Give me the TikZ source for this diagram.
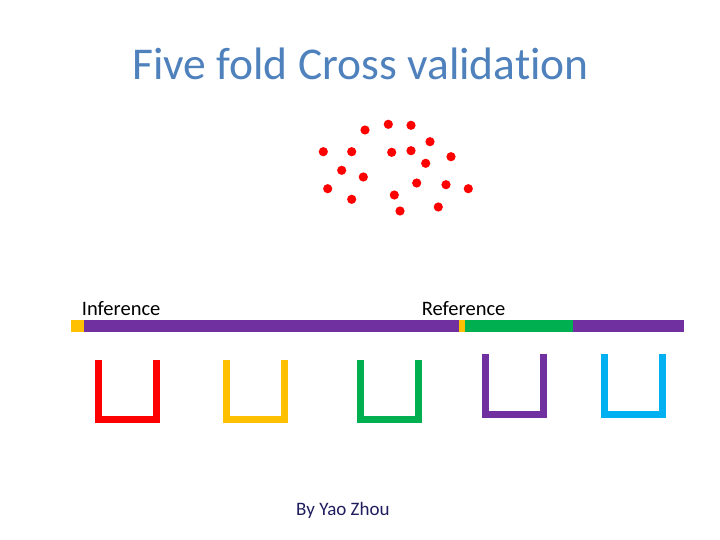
\documentclass[tikz,border=0pt]{standalone}
\usepackage{fontspec}
\setmainfont{Carlito}[Ligatures=NoCommon]
\usepackage{xcolor}
\usepackage{tikz}
\definecolor{TitleBlue}{HTML}{4F81BD}
\definecolor{NameNavy}{HTML}{1F1D5E}
\definecolor{FoldRed}{HTML}{FF0000}
\definecolor{FoldYellow}{HTML}{FFC000}
\definecolor{FoldGreen}{HTML}{00B050}
\definecolor{FoldPurple}{HTML}{7030A0}
\definecolor{FoldBlue}{HTML}{00B0F0}

\begin{document}
\begin{tikzpicture}[
  x=1pt, y=-1pt,
  label/.style={anchor=base west, inner sep=0pt, font=\fontsize{20.5}{24}\selectfont},
  sample/.style={fill=FoldRed, draw=none},
  segment/.style={draw=none},
  bucket/.style={line width=7pt, line cap=butt, line join=miter}
]
\useasboundingbox (0,0) rectangle (720,540);

% title
\node[anchor=base west, inner sep=0pt, text=TitleBlue,
  font=\fontsize{45.5}{52}\selectfont] (title) at (132,79.5) {Five fold Cross validation};

% data points
\foreach \px/\py in {365/130, 388.3/124.3, 411/125.3, 430/141.7, 323.3/151.7,
  351.7/151.7, 391.7/152.3, 411/150.7, 451/156.7, 425.7/163.3, 341.7/170.3,
  363.3/177, 327.7/188.7, 351.7/199.3, 394.3/195, 416.7/183, 446/184.7,
  468.3/188.7, 400/211, 438.3/207}
  \fill[sample] (\px,\py) circle (4.6);

% split bar
\fill[segment, FoldYellow] (71,320) rectangle (84,331.5);
\fill[segment, FoldPurple] (84,320) rectangle (458.5,331.5);
\fill[segment, FoldYellow] (458.5,320) rectangle (465,331.5);
\fill[segment, FoldGreen] (465,320) rectangle (572.7,331.5);
\fill[segment, FoldPurple] (572.7,320) rectangle (684,331.5);

\node[label] (inference) at (81.7,315) {Inference};
\node[label] (reference) at (421.7,315) {Reference};

% folds
\draw[bucket, FoldRed] (98.7,360) -- (98.7,419.3) -- (156.5,419.3) -- (156.5,360);
\draw[bucket, FoldYellow] (226.8,360) -- (226.8,419.3) -- (284.5,419.3) -- (284.5,360);
\draw[bucket, FoldGreen] (360.8,360) -- (360.8,419.3) -- (418.5,419.3) -- (418.5,360);
\draw[bucket, FoldPurple] (485.5,354) -- (485.5,414.3) -- (543.8,414.3) -- (543.8,354);
\draw[bucket, FoldBlue] (604.8,354) -- (604.8,414.3) -- (662.5,414.3) -- (662.5,354);

\node[label, text=NameNavy, font=\fontsize{19}{22}\selectfont] (author) at (296,515.7) {By Yao Zhou};
\end{tikzpicture}
\end{document}
